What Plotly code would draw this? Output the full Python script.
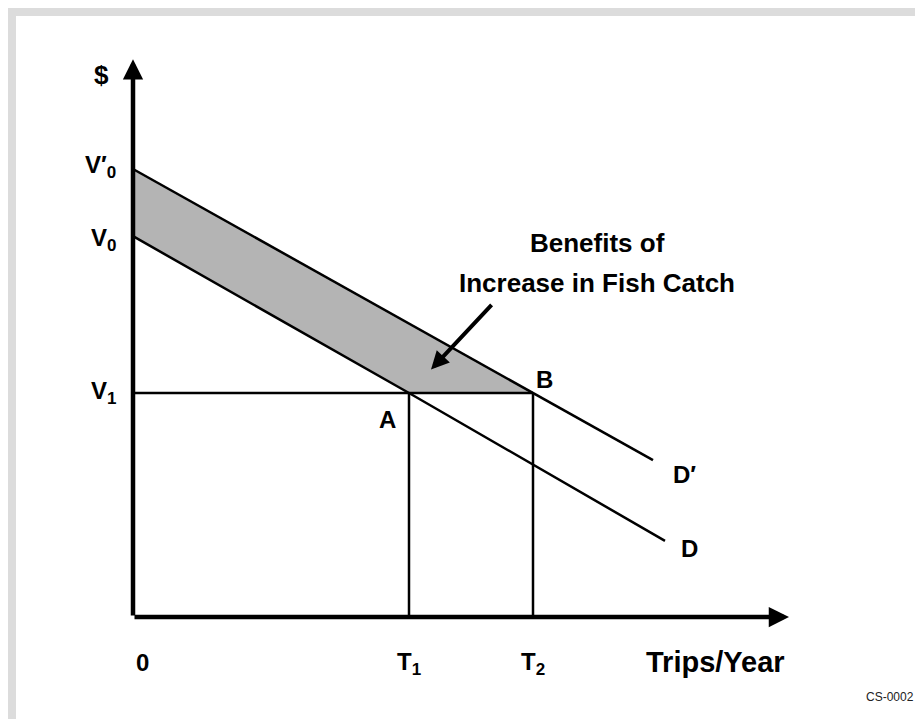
import plotly.graph_objects as go

# Valeurs du diagramme (unités arbitraires)
v0_prime = 20.0   # ordonnée à l'origine de D'
v0 = 17.0         # ordonnée à l'origine de D
v1 = 10.0         # prix / coût du voyage
t1 = 6.9          # voyages au point A
t2 = 10.0         # voyages au point B

# Courbes de demande
d_prime_x = [0, t2, 13.0]
d_prime_y = [v0_prime, v1, 7.0]
d_x = [0, t1, 13.3]
d_y = [v0, v1, 3.4]

# Zone des bénéfices (entre D et D' au-dessus de V1)
zone_x = [0, t2, t1, 0]
zone_y = [v0_prime, v1, v1, v0]

x_max = 16.4   # bout de la flèche horizontale
y_max = 24.9   # bout de la flèche verticale

# la page ajoute une marge de 8 px : la figure fait 915 x 711
W, H = 915, 711
PX_X, PX_Y = 40.0, 22.4   # pixels par unité
ORIG_X, ORIG_Y = 125, 609

FONT = "Arial, Liberation Sans, sans-serif"
BOLD = dict(family=FONT, color="black", weight="bold")


def sub(lettre, indice):
    # indice un peu plus gros que le <sub> par défaut
    return f"{lettre}<sub><span style='font-size:17px'>{indice}</span></sub>"


fig = go.Figure()

# Zone grisée
fig.add_trace(go.Scatter(x=zone_x, y=zone_y, fill="toself", fillcolor="#b4b4b4",
                         mode="lines", line=dict(width=0), hoverinfo="skip"))

# Lignes V1, T1, T2
fig.add_trace(go.Scatter(x=[0, t2], y=[v1, v1], mode="lines",
                         line=dict(color="black", width=2.5), hoverinfo="skip"))
for t in [t1, t2]:
    fig.add_trace(go.Scatter(x=[t, t], y=[0, v1], mode="lines",
                             line=dict(color="black", width=2.5), hoverinfo="skip"))

# Demandes D et D'
fig.add_trace(go.Scatter(x=d_prime_x, y=d_prime_y, mode="lines",
                         line=dict(color="black", width=2.5), hoverinfo="skip"))
fig.add_trace(go.Scatter(x=d_x, y=d_y, mode="lines",
                         line=dict(color="black", width=2.5), hoverinfo="skip"))

# Axes avec flèches
for (xt, yt) in [(0, y_max), (x_max, 0)]:
    fig.add_annotation(x=xt, y=yt, ax=0, ay=0, xref="x", yref="y", axref="x", ayref="y",
                       showarrow=True, arrowhead=2, arrowsize=0.9, arrowwidth=4.5,
                       arrowcolor="black", text="")

# Flèche de la légende
fig.add_annotation(x=7.45, y=11.05, ax=9.0, ay=14.0, xref="x", yref="y", axref="x", ayref="y",
                   showarrow=True, arrowhead=2, arrowsize=0.9, arrowwidth=4,
                   arrowcolor="black", text="")

labels = [
    ("$", 0, y_max, -32, -16, 26, "center"),
    (sub("V′", "0"), 0, v0_prime, -15, 3, 24, "right"),
    (sub("V", "0"), 0, v0, -15, -3, 24, "right"),
    (sub("V", "1"), 0, v1, -15, 1, 24, "right"),
    ("A", t1, v1, -22, -26, 24, "center"),
    ("B", t2, v1, 11, 14, 24, "center"),
    ("D′", d_prime_x[-1], d_prime_y[-1], 31, -14, 24, "center"),
    ("D", d_x[-1], d_y[-1], 24, -8, 24, "center"),
    ("0", 0, 0, 9, -45, 24, "center"),
    (sub("T", "1"), t1, 0, 0, -46, 24, "center"),
    (sub("T", "2"), t2, 0, 0, -46, 24, "center"),
    ("Trips/Year", 14.55, 0, 0, -45, 29, "center"),
    ("Benefits of", 11.6, 16.7, 0, 0, 26, "center"),
    ("Increase in Fish Catch", 11.6, 14.9, 0, 0, 26, "center"),
]
for txt, x, y, dx, dy, size, anchor in labels:
    fig.add_annotation(x=x, y=y, xref="x", yref="y", text=txt, showarrow=False,
                       xshift=dx, yshift=dy, xanchor=anchor, yanchor="middle",
                       font=dict(BOLD, size=size))

fig.add_annotation(x=882 / W, y=1 - 689 / H, xref="paper", yref="paper", text="CS-0002",
                   showarrow=False, xanchor="center", yanchor="middle",
                   font=dict(family=FONT, size=12, color="#222"))

# Cadre gris (haut et gauche)
fig.add_shape(type="rect", xref="paper", yref="paper", x0=0, x1=1, y0=1 - 8 / H, y1=1,
              fillcolor="#dcdcdc", line=dict(width=0), layer="below")
fig.add_shape(type="rect", xref="paper", yref="paper", x0=0, x1=8 / W, y0=0, y1=1,
              fillcolor="#dcdcdc", line=dict(width=0), layer="below")

fig.update_layout(
    width=W, height=H, margin=dict(l=0, r=0, t=0, b=0),
    paper_bgcolor="white", plot_bgcolor="white", showlegend=False,
    xaxis=dict(range=[-ORIG_X / PX_X, (W - ORIG_X) / PX_X], visible=False, fixedrange=True),
    yaxis=dict(range=[-(H - ORIG_Y) / PX_Y, ORIG_Y / PX_Y], visible=False, fixedrange=True),
)

fig.write_html("out.html")
